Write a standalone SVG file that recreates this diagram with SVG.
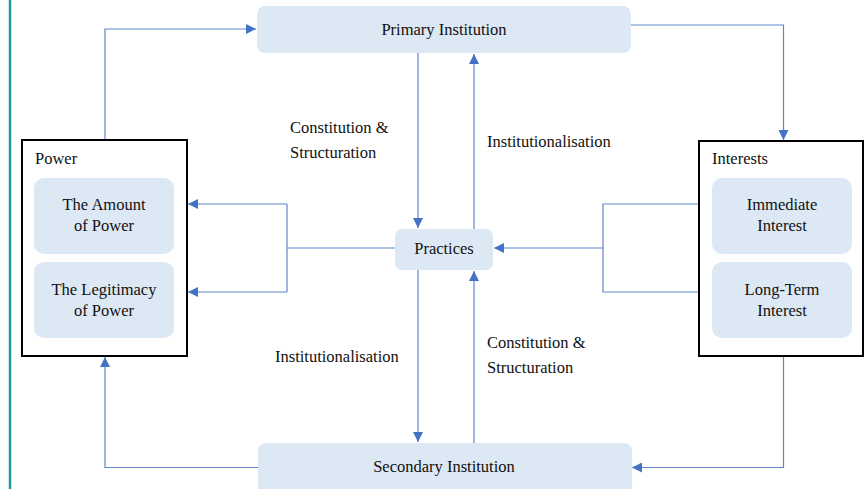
<svg xmlns="http://www.w3.org/2000/svg" width="865" height="489" viewBox="0 0 865 489">
<style>
text{font-family:"Liberation Serif",Tinos,"Times New Roman",Times,"DejaVu Serif","Noto Serif",serif;font-size:16.5px;fill:#111}
.c{text-anchor:middle}
.node{fill:#dde8f5}
.outer{fill:#fff;stroke:#000;stroke-width:2}
.con{fill:none;stroke:#5f85cc;stroke-width:1.2}
</style>
<defs>
<marker id="ah" viewBox="0 0 10 10" refX="10" refY="5" markerWidth="10" markerHeight="10" markerUnits="userSpaceOnUse" orient="auto">
<path d="M0,0 L10,5 L0,10 Z" fill="#4472c4"/>
</marker>
</defs>
<rect width="865" height="489" fill="#fff"/>
<line x1="10" y1="0" x2="10" y2="489" stroke="#1a9a94" stroke-width="2.5"/>

<g id="connectors">
<path class="con" d="M105,140 V29 H256" marker-end="url(#ah)"/>
<path class="con" d="M631,25 H783.5 V140" marker-end="url(#ah)"/>
<path class="con" d="M783.5,356 V467.5 H632" marker-end="url(#ah)"/>
<path class="con" d="M258,467.5 H105 V357" marker-end="url(#ah)"/>
<path class="con" d="M418,53 V228" marker-end="url(#ah)"/>
<path class="con" d="M474,229 V54" marker-end="url(#ah)"/>
<path class="con" d="M418,270 V442" marker-end="url(#ah)"/>
<path class="con" d="M474,443 V271" marker-end="url(#ah)"/>
<path class="con" d="M395,248 H287"/>
<path class="con" d="M287,204 V292"/>
<path class="con" d="M287,204 H188" marker-end="url(#ah)"/>
<path class="con" d="M287,292 H188" marker-end="url(#ah)"/>
<path class="con" d="M699,204 H603 V292 H699"/>
<path class="con" d="M603,248 H494" marker-end="url(#ah)"/>
</g>

<g id="labels">
<text x="290" y="133" font-family="Liberation Serif, serif">Constitution &amp;</text>
<text x="290" y="158" font-family="Liberation Serif, serif">Structuration</text>
<text x="487" y="147" font-family="Liberation Serif, serif">Institutionalisation</text>
<text x="275" y="362" font-family="Liberation Serif, serif">Institutionalisation</text>
<text x="487" y="348" font-family="Liberation Serif, serif">Constitution &amp;</text>
<text x="487" y="373" font-family="Liberation Serif, serif">Structuration</text>
</g>

<g id="primary">
<rect class="node" x="257" y="6" width="374" height="47" rx="8"/>
<text class="c" x="444" y="35">Primary Institution</text>
</g>
<g id="secondary">
<rect class="node" x="258" y="443" width="374" height="52" rx="8"/>
<text class="c" x="444" y="472">Secondary Institution</text>
</g>
<g id="practices">
<rect class="node" x="395" y="229" width="98" height="41" rx="7"/>
<text class="c" x="444" y="254">Practices</text>
</g>

<g id="power">
<rect class="outer" x="22" y="140" width="165" height="216"/>
<text x="35" y="164">Power</text>
<g id="amount">
<rect class="node" x="34" y="178" width="140" height="76" rx="10"/>
<text class="c" x="104" y="210">The Amount</text>
<text class="c" x="104" y="231">of Power</text>
</g>
<g id="legitimacy">
<rect class="node" x="34" y="262" width="140" height="76" rx="10"/>
<text class="c" x="104" y="295">The Legitimacy</text>
<text class="c" x="104" y="316">of Power</text>
</g>
</g>

<g id="interests">
<rect class="outer" x="699" y="141" width="164" height="215"/>
<text x="712" y="164">Interests</text>
<g id="immediate">
<rect class="node" x="712" y="178" width="140" height="76" rx="10"/>
<text class="c" x="782" y="210">Immediate</text>
<text class="c" x="782" y="231">Interest</text>
</g>
<g id="longterm">
<rect class="node" x="712" y="262" width="140" height="76" rx="10"/>
<text class="c" x="782" y="295">Long-Term</text>
<text class="c" x="782" y="316">Interest</text>
</g>
</g>
</svg>
